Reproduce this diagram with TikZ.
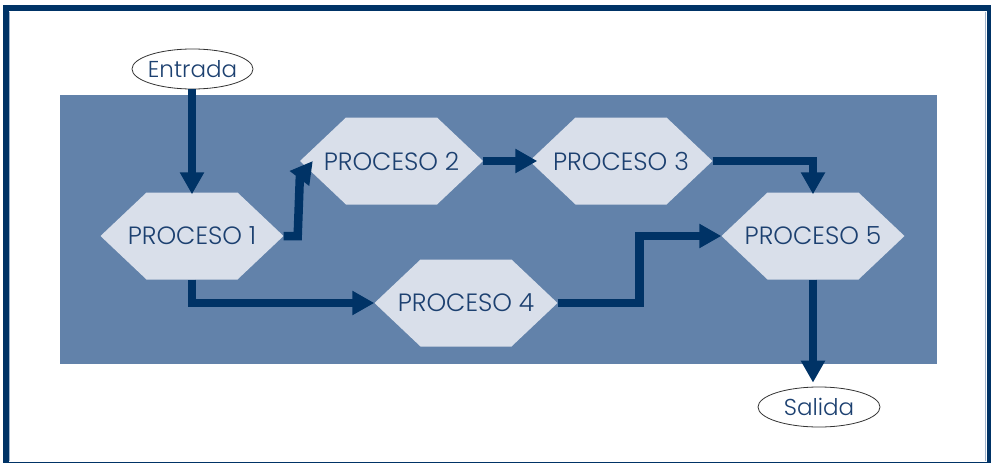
\documentclass[tikz,border=0pt]{standalone}
\usepackage{fontspec}
\setmainfont{Poppins}[UprightFont=* Light]
\usetikzlibrary{arrows.meta,shapes.geometric,calc}
\definecolor{framec}{HTML}{003366}
\definecolor{panelc}{HTML}{6282AA}
\definecolor{hexc}{HTML}{D9DFEA}
\definecolor{arrc}{HTML}{003366}
\definecolor{txtc}{HTML}{1C4070}
\tikzset{
  hexbox/.style={rectangle, inner sep=0pt, minimum width=183pt, minimum height=87pt,
    text=txtc, font=\fontsize{25}{28}\selectfont,
    path picture={\fill[hexc]
      (path picture bounding box.west)
      -- ([xshift=46pt]path picture bounding box.north west)
      -- ([xshift=-46pt]path picture bounding box.north east)
      -- (path picture bounding box.east)
      -- ([xshift=-46pt]path picture bounding box.south east)
      -- ([xshift=46pt]path picture bounding box.south west) -- cycle;}},
  termbox/.style={ellipse, draw=black!80, line width=0.8pt, fill=white, inner sep=0pt,
    minimum height=40pt, text=txtc, font=\fontsize{23}{26}\selectfont},
  flow/.style={draw=arrc, line width=8.5pt, -{Triangle[length=22pt,width=23pt]}}
}
\begin{document}
\begin{tikzpicture}[x=1pt,y=-1pt]
\useasboundingbox (0,0) rectangle (991,463);
\fill[white] (0,0) rectangle (991,463);
% frame
\draw[framec, line width=6pt] (6,8) rectangle (989.5,464.5);
\draw[panelc!60, line width=1pt] (9.5,11.5) -- (9.5,461);
\draw[panelc!60, line width=1pt] (985.8,11.5) -- (985.8,461);
% panel
\fill[panelc] (60,95) rectangle (937,364);
% nodes
\node[termbox, minimum width=121pt] (ent) at (192.5,69) {\makebox[20pt]{Entrada}};
\node[termbox, minimum width=122pt] (sal) at (819,407) {\makebox[20pt]{Salida}};
\node[hexbox] (p1) at (192,236) {PROCESO 1};
\node[hexbox] (p2) at (391.5,161) {PROCESO 2};
\node[hexbox] (p3) at (621,161) {PROCESO 3};
\node[hexbox] (p4) at (466,303) {PROCESO 4};
\node[hexbox] (p5) at (813,236) {PROCESO 5};
% connectors
\draw[flow] (p1.north |- ent.south) -- ([yshift=-2pt]p1.north);
\draw[flow] (p1.east) -- ++(14,0) -- ($(p2.west)+(0,17)$) -- ($(p2.west)+(13,0)$);
\draw[flow] (p2.east) -- ([xshift=8pt]p3.west);
\draw[flow] (p3.east) -| ([yshift=-2pt]p5.north);
\draw[flow] (p1.south) |- (p4.west);
\draw[flow] (p4.east) -| ($(p4.east)!.5!(p5.west)$) |- (p5.west);
\draw[flow] (p5.south) -- ([yshift=4pt]p5.south |- sal.north);
\end{tikzpicture}
\end{document}
